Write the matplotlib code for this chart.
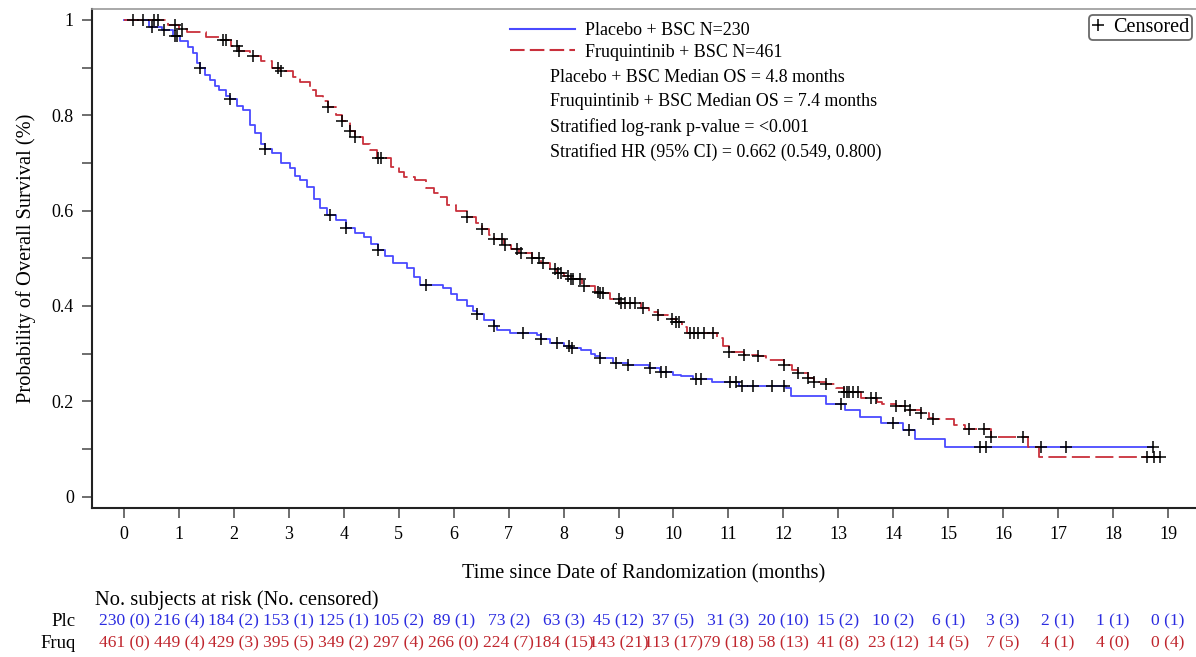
import numpy as np
import matplotlib
matplotlib.use("Agg")
import matplotlib.pyplot as plt
import matplotlib.transforms as mtransforms
from matplotlib.lines import Line2D

plt.rcParams['font.family'] = ['Liberation Serif', 'DejaVu Serif']

# ---------------- data ----------------
plc_t = [0, 0.45, 0.7, 0.9, 1.02, 1.17, 1.26, 1.33, 1.38, 1.47, 1.57, 1.65, 1.72, 1.85, 1.92,
         2.05, 2.17, 2.3, 2.39, 2.5, 2.57, 2.69, 2.85, 3.02, 3.12, 3.21, 3.33, 3.45, 3.57,
         3.7, 3.85, 4.04, 4.2, 4.36, 4.5, 4.63, 4.75, 4.9, 5.15, 5.28, 5.39, 5.81, 5.95,
         6.06, 6.24, 6.35, 6.42, 6.55, 6.74, 6.78, 7.03, 7.52, 7.58, 7.76, 8.0, 8.13, 8.31,
         8.5, 8.58, 8.67, 8.9, 9.18, 9.55, 9.75, 10.0, 10.13, 10.35, 10.71, 11.2, 12.05,
         12.13, 12.77, 13.12, 13.4, 13.78, 14.17, 14.4, 14.95]
plc_s = [1.0, 0.985, 0.978, 0.966, 0.955, 0.944, 0.93, 0.91, 0.899, 0.885, 0.874, 0.862, 0.853,
         0.84, 0.834, 0.82, 0.811, 0.78, 0.762, 0.74, 0.729, 0.72, 0.70, 0.689, 0.672, 0.664,
         0.650, 0.625, 0.605, 0.59, 0.58, 0.563, 0.553, 0.545, 0.53, 0.518, 0.505, 0.49, 0.48,
         0.46, 0.444, 0.437, 0.425, 0.413, 0.399, 0.39, 0.383, 0.37, 0.358, 0.35, 0.344, 0.339,
         0.33, 0.322, 0.315, 0.311, 0.308, 0.30, 0.294, 0.29, 0.28, 0.276, 0.269, 0.262, 0.256,
         0.252, 0.247, 0.241, 0.233, 0.228, 0.21, 0.194, 0.181, 0.167, 0.154, 0.14, 0.12, 0.104]
plc_end = 18.73
plc_cens = [0.35, 0.5, 0.73, 0.93, 0.97, 1.38, 1.92, 2.57, 3.75, 4.04, 4.63, 5.5, 6.42, 6.74,
            7.26, 7.58, 7.88, 8.1, 8.16, 8.67, 8.95, 9.18, 9.58, 9.78, 9.86, 10.41, 10.5, 11.02,
            11.14, 11.25, 11.45, 11.79, 12.01, 13.05, 13.99, 14.29, 15.57, 15.69, 16.69, 17.15,
            18.73]

frq_t = [0, 0.8, 1.0, 1.15, 1.5, 1.75, 1.95, 2.1, 2.3, 2.5, 2.7, 2.83, 3.08, 3.2, 3.39, 3.5,
         3.63, 3.72, 3.85, 3.97, 4.12, 4.21, 4.35, 4.48, 4.6, 4.85, 5.0, 5.09, 5.3, 5.5, 5.64,
         5.73, 5.88, 6.05, 6.24, 6.4, 6.52, 6.65, 6.73, 6.91, 7.05, 7.19, 7.43, 7.58, 7.75,
         7.88, 8.0, 8.13, 8.34, 8.58, 8.67, 8.85, 9.01, 9.4, 9.55, 9.71, 9.9, 10.04, 10.15,
         10.25, 10.79, 10.9, 11.01, 11.28, 11.53, 11.68, 12.01, 12.15, 12.26, 12.44, 12.56,
         12.77, 12.95, 13.1, 13.41, 13.71, 13.8, 14.05, 14.25, 14.5, 14.65, 14.72, 15.1, 15.3,
         15.78, 16.46, 16.65]
frq_s = [1.0, 0.99, 0.982, 0.975, 0.965, 0.958, 0.945, 0.935, 0.925, 0.913, 0.9, 0.892, 0.881,
         0.87, 0.853, 0.84, 0.829, 0.818, 0.8, 0.787, 0.766, 0.755, 0.74, 0.727, 0.71, 0.692,
         0.68, 0.671, 0.664, 0.648, 0.636, 0.629, 0.612, 0.6, 0.587, 0.573, 0.561, 0.548, 0.54,
         0.528, 0.52, 0.511, 0.50, 0.49, 0.478, 0.469, 0.462, 0.456, 0.442, 0.43, 0.427, 0.415,
         0.406, 0.395, 0.388, 0.381, 0.372, 0.367, 0.355, 0.344, 0.332, 0.315, 0.304, 0.297,
         0.294, 0.287, 0.276, 0.265, 0.259, 0.248, 0.241, 0.236, 0.228, 0.22, 0.206, 0.199,
         0.194, 0.189, 0.182, 0.175, 0.165, 0.162, 0.15, 0.141, 0.125, 0.104, 0.084]
frq_end = 18.9
frq_cens = [0.17, 0.55, 0.62, 0.92, 1.05, 1.8, 1.86, 2.05, 2.1, 2.34, 2.8, 2.86, 3.72, 3.97,
            4.12, 4.21, 4.62, 4.67, 6.24, 6.52, 6.73, 6.88, 6.94, 7.15, 7.22, 7.43, 7.55, 7.62,
            7.85, 7.9, 7.95, 8.08, 8.13, 8.18, 8.3, 8.38, 8.62, 8.67, 8.72, 9.0, 9.05, 9.12, 9.2,
            9.3, 9.45, 9.71, 9.98, 10.04, 10.1, 10.3, 10.38, 10.45, 10.55, 10.72, 11.01, 11.28,
            11.53, 12.01, 12.26, 12.44, 12.56, 12.77, 13.1, 13.15, 13.2, 13.27, 13.35, 13.59,
            13.68, 14.05, 14.22, 14.3, 14.5, 14.72, 15.38, 15.66, 15.78, 16.36, 18.62, 18.74,
            18.86]

risk_times = list(range(0, 20))
plc_risk = ["230 (0)", "216 (4)", "184 (2)", "153 (1)", "125 (1)", "105 (2)", "89 (1)", "73 (2)",
            "63 (3)", "45 (12)", "37 (5)", "31 (3)", "20 (10)", "15 (2)", "10 (2)", "6 (1)",
            "3 (3)", "2 (1)", "1 (1)", "0 (1)"]
frq_risk = ["461 (0)", "449 (4)", "429 (3)", "395 (5)", "349 (2)", "297 (4)", "266 (0)", "224 (7)",
            "184 (15)", "143 (21)", "113 (17)", "79 (18)", "58 (13)", "41 (8)", "23 (12)", "14 (5)",
            "7 (5)", "4 (1)", "4 (0)", "0 (4)"]

stats_lines = ["Placebo + BSC Median OS = 4.8 months",
               "Fruquintinib + BSC Median OS = 7.4 months",
               "Stratified log-rank p-value = <0.001",
               "Stratified HR (95% CI) = 0.662 (0.549, 0.800)"]

BLUE = '#4a4aff'
RED = '#c9303c'
BLUE_TXT = '#2c2ce0'
RED_TXT = '#c0262e'

# ---------------- figure ----------------
W, H = 1196, 657
fig = plt.figure(figsize=(W / 100, H / 100), dpi=100)
ax = fig.add_axes([92 / W, 1 - 508 / H, (W - 92) / W, (508 - 9) / H])


def surv_at(ts, ss, t):
    i = np.searchsorted(ts, t, side='right') - 1
    return np.asarray(ss)[i]


def draw_curve(ts, ss, t_end, cens, color, ls):
    x = list(ts) + [t_end]
    y = list(ss) + [ss[-1]]
    ax.step(x, y, where='post', color=color, lw=1.3, linestyle=ls, zorder=2)
    cy = [surv_at(ts, ss, c) for c in cens]
    ax.plot(cens, cy, linestyle='none', marker='+', color='black', ms=8, mew=1.1, zorder=3)


draw_curve(plc_t, plc_s, plc_end, plc_cens, BLUE, '-')
draw_curve(frq_t, frq_s, frq_end, frq_cens, RED, (0, (10, 3)))

ax.set_xlim(-0.583, 19.51)
ax.set_ylim(-0.024, 1.023)
ax.set_xticks(range(0, 20))
ax.set_yticks([0, 0.2, 0.4, 0.6, 0.8, 1.0])
ax.set_yticklabels(['0', '0.2', '0.4', '0.6', '0.8', '1'])
ax.set_yticks(np.arange(0.1, 1.0, 0.2), minor=True)
ax.tick_params(axis='both', which='both', direction='out', length=7, width=1.2,
               color='#555555', labelsize=13, pad=6)
for s in ['left', 'bottom']:
    ax.spines[s].set_color('#222222')
    ax.spines[s].set_linewidth(1.5)
ax.spines['top'].set_color('#999999')
ax.spines['top'].set_linewidth(1.2)
ax.spines['right'].set_visible(False)

ax.set_xlabel('Time since Date of Randomization (months)', fontsize=14.7, labelpad=15)
ax.set_ylabel('Probability of Overall Survival (%)', fontsize=14.7, labelpad=11)

# legend with series
h1 = Line2D([], [], color=BLUE, lw=1.5)
h2 = Line2D([], [], color=RED, lw=1.5, linestyle=(0, (7, 2.5)))
leg = ax.legend([h1, h2], ['Placebo + BSC N=230', 'Fruquintinib + BSC N=461'],
                loc='upper left', bbox_to_anchor=((510 - 92) / (W - 92), 1 - (22 - 9) / 499),
                frameon=False, fontsize=13, handlelength=3.6, handletextpad=0.55,
                labelspacing=0.25, borderaxespad=0, borderpad=0)
ax.add_artist(leg)

for i, line in enumerate(stats_lines):
    fig.text(550 / W, 1 - (77 + 25 * i) / H, line, fontsize=12.9, va='center', ha='left')

# censored legend box
h3 = Line2D([], [], color='black', marker='+', linestyle='none', ms=8, mew=1.1)
leg2 = ax.legend([h3], ['Censored'], loc='upper right',
                 bbox_to_anchor=(1 - 4 / (W - 92), 1 - (15 - 9) / 499),
                 frameon=True, fancybox=True, fontsize=14.5, handlelength=0.6,
                 handletextpad=0.45, borderpad=0.15, borderaxespad=0, edgecolor='#444444')
leg2.get_frame().set_linewidth(1.3)

# risk table
fig.text(95 / W, 1 - 600 / H, 'No. subjects at risk (No. censored)', fontsize=14.8,
         va='center', ha='left')
fig.text(76 / W, 1 - 621 / H, 'Plc', fontsize=13.5, va='center', ha='right')
fig.text(76 / W, 1 - 643 / H, 'Fruq', fontsize=13.5, va='center', ha='right')
tr = mtransforms.blended_transform_factory(ax.transData, fig.transFigure)
for t, p, f in zip(risk_times, plc_risk, frq_risk):
    ax.text(t, 1 - 621 / H, p, transform=tr, fontsize=12.6, color=BLUE_TXT,
            ha='center', va='center', clip_on=False)
    ax.text(t, 1 - 643 / H, f, transform=tr, fontsize=12.6, color=RED_TXT,
            ha='center', va='center', clip_on=False)

fig.savefig('out.png', dpi=100)
